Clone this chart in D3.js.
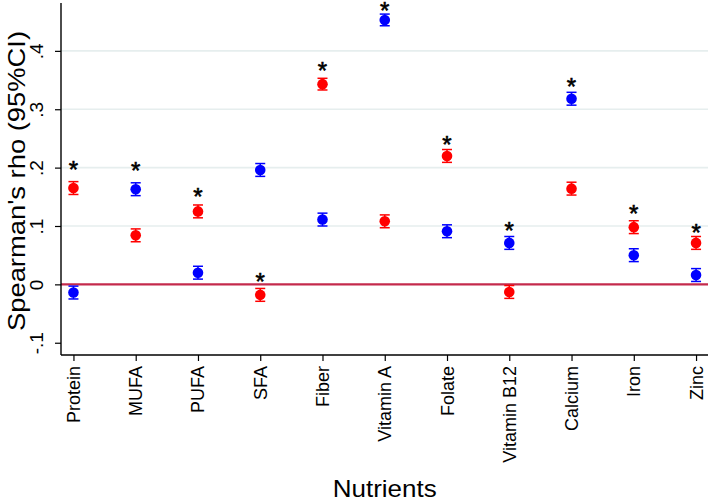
<!DOCTYPE html>
<html>
<head>
<meta charset="utf-8">
<script src="https://cdn.jsdelivr.net/npm/d3@7"></script>
<style>
  html, body { margin: 0; padding: 0; background: #fff; }
  svg { display: block; font-family: "Liberation Sans", Arial, sans-serif; }
</style>
</head>
<body>
<div id="chart"></div>
<script>
// nutrients on the x axis
const nutrients = ['Protein', 'MUFA', 'PUFA', 'SFA', 'Fiber', 'Vitamin A', 'Folate',
  'Vitamin B12', 'Calcium', 'Iron', 'Zinc'];

// spearman's rho, red series and blue series
const redRho = [0.165, 0.084, 0.125, -0.018, 0.343, 0.108, 0.220, -0.013, 0.164, 0.098, 0.071];
const blueRho = [-0.014, 0.163, 0.020, 0.196, 0.111, 0.453, 0.091, 0.071, 0.318, 0.050, 0.016];

// half width of the 95% CI
const redCi = [0.011, 0.011, 0.011, 0.011, 0.010, 0.011, 0.011, 0.011, 0.011, 0.011, 0.011];
const blueCi = [0.011, 0.011, 0.011, 0.011, 0.011, 0.010, 0.011, 0.011, 0.011, 0.011, 0.011];

// significance stars, at the level where they sit on the y scale
const starRho = [0.206, 0.204, 0.160, 0.014, 0.375, 0.478, 0.249, 0.1015, 0.349, 0.131, 0.099];

const yTicks = [-0.1, 0, 0.1, 0.2, 0.3, 0.4];
const yTickLabels = ['-.1', '0', '.1', '.2', '.3', '.4'];

const width = 708, height = 499;
const plotLeft = 61, plotRight = 708.5, plotTop = 3, plotBottom = 355;

const svg = d3.select('#chart').append('svg')
  .attr('width', width)
  .attr('height', height);

const x = d3.scaleLinear().domain([0.8, 11.2]).range([plotLeft, plotRight]);
const y = d3.scaleLinear().domain([-0.121, 0.482]).range([plotBottom, plotTop]);

// gridlines
svg.append('g')
  .selectAll('line')
  .data(yTicks.filter(d => d > 0))
  .join('line')
  .attr('x1', plotLeft).attr('x2', plotRight)
  .attr('y1', d => y(d)).attr('y2', d => y(d))
  .attr('stroke', '#e6eeee')
  .attr('stroke-width', 1.6);

// zero line
svg.append('line')
  .attr('x1', plotLeft).attr('x2', plotRight)
  .attr('y1', y(0)).attr('y2', y(0))
  .attr('stroke', '#c42a4c')
  .attr('stroke-width', 2.4);

// y axis
const yAxis = svg.append('g')
  .attr('transform', `translate(${plotLeft},0)`)
  .call(d3.axisLeft(y).tickValues(yTicks).tickSize(6).tickFormat((d, i) => yTickLabels[i]));
yAxis.select('.domain').attr('d', `M0,${plotTop}V${plotBottom}`).attr('stroke', '#000').attr('stroke-width', 1.4);
yAxis.selectAll('.tick line').attr('stroke', '#000').attr('stroke-width', 1.2);
yAxis.selectAll('.tick text')
  .attr('x', null).attr('dy', null)
  .attr('transform', 'translate(-18,0) rotate(-90)')
  .attr('text-anchor', 'middle')
  .attr('font-size', 19)
  .attr('font-family', '"Liberation Sans", Arial, sans-serif')
  .attr('fill', '#000');

// x axis
const xAxis = svg.append('g')
  .attr('transform', `translate(0,${plotBottom})`)
  .call(d3.axisBottom(x).tickValues(d3.range(1, nutrients.length + 1)).tickSize(6)
    .tickFormat(d => nutrients[d - 1]));
xAxis.select('.domain').attr('d', `M${plotLeft},0H${plotRight}`).attr('stroke', '#000').attr('stroke-width', 1.4);
xAxis.selectAll('.tick line').attr('stroke', '#000').attr('stroke-width', 1.2);
xAxis.selectAll('.tick text')
  .attr('y', null).attr('dy', null)
  .attr('transform', 'translate(6,11) rotate(-90)')
  .attr('text-anchor', 'end')
  .attr('font-size', 18)
  .attr('font-family', '"Liberation Sans", Arial, sans-serif')
  .attr('fill', '#000');

// series
const series = [
  { name: 'red', color: '#ff0000', rho: redRho, ci: redCi },
  { name: 'blue', color: '#0000ff', rho: blueRho, ci: blueCi },
];

series.forEach(s => {
  const g = svg.append('g');
  const pts = s.rho.map((v, i) => ({ i: i + 1, v: v, lo: v - s.ci[i], hi: v + s.ci[i] }));
  g.selectAll('line.ci')
    .data(pts)
    .join('line')
    .attr('class', 'ci')
    .attr('x1', d => x(d.i)).attr('x2', d => x(d.i))
    .attr('y1', d => y(d.lo)).attr('y2', d => y(d.hi))
    .attr('stroke', s.color).attr('stroke-width', 1.5);
  ['lo', 'hi'].forEach(k => {
    g.selectAll('line.cap-' + k)
      .data(pts)
      .join('line')
      .attr('class', 'cap-' + k)
      .attr('x1', d => x(d.i) - 5).attr('x2', d => x(d.i) + 5)
      .attr('y1', d => y(d[k])).attr('y2', d => y(d[k]))
      .attr('stroke', s.color).attr('stroke-width', 1.5);
  });
  g.selectAll('circle')
    .data(pts)
    .join('circle')
    .attr('cx', d => x(d.i))
    .attr('cy', d => y(d.v))
    .attr('r', 5.3)
    .attr('fill', s.color);
});

// significance stars (glyph centre sits ~0.58em above the baseline)
svg.append('g')
  .selectAll('text')
  .data(starRho.map((v, i) => ({ i: i + 1, v: v })))
  .join('text')
  .attr('x', d => x(d.i))
  .attr('y', d => y(d.v) + 14)
  .attr('text-anchor', 'middle')
  .attr('font-size', 24)
  .attr('fill', '#000')
  .attr('stroke', '#000')
  .attr('stroke-width', 0.6)
  .text('*');

// axis titles
svg.append('text')
  .attr('transform', `translate(25,181) rotate(-90)`)
  .attr('text-anchor', 'middle')
  .attr('font-size', 24)
  .attr('textLength', 300)
  .attr('lengthAdjust', 'spacingAndGlyphs')
  .attr('fill', '#000')
  .text("Spearman's rho (95%CI)");

svg.append('text')
  .attr('x', (plotLeft + plotRight) / 2)
  .attr('y', 497.3)
  .attr('text-anchor', 'middle')
  .attr('font-size', 24.5)
  .attr('textLength', 104)
  .attr('lengthAdjust', 'spacingAndGlyphs')
  .attr('fill', '#000')
  .text('Nutrients');
</script>
</body>
</html>
